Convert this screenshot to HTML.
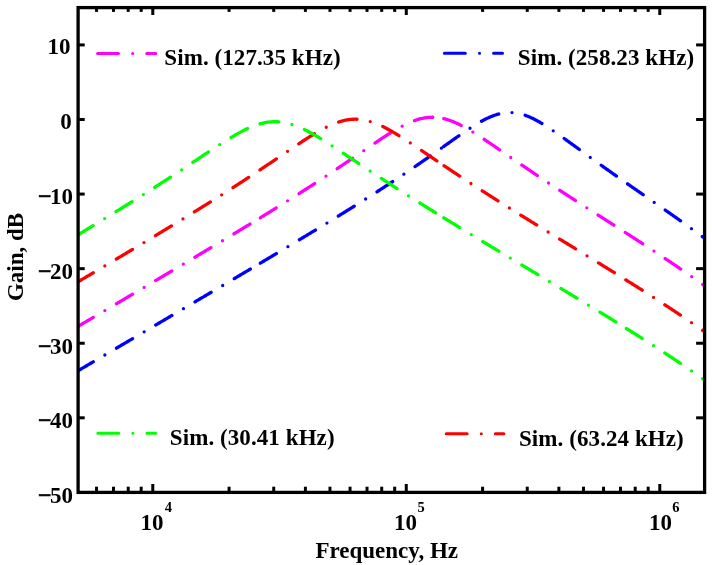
<!DOCTYPE html>
<html><head><meta charset="utf-8"><style>
html,body{margin:0;padding:0;background:#fff;}
body{width:712px;height:565px;overflow:hidden;}
svg{display:block;filter:blur(0.3px);}
text{font-family:"Liberation Serif","Times New Roman",serif;font-weight:bold;fill:#000;}
</style></head><body>
<svg width="712" height="565" viewBox="0 0 712 565">
<defs><clipPath id="pc"><rect x="78.10" y="7.60" width="626.50" height="484.80"/></clipPath></defs>
<rect width="712" height="565" fill="#fff"/>

<path d="M76.47 371.69 L77.39 371.15 L78.32 370.61 L79.24 370.06 L80.17 369.52 L81.09 368.98 L82.01 368.43 L82.94 367.89 L83.86 367.34 L84.78 366.80 L85.71 366.26 L86.63 365.71 L87.56 365.17 L88.48 364.63 L89.40 364.08 L90.33 363.54 L91.25 362.99 L92.17 362.45 L93.10 361.91 L94.02 361.36 L94.95 360.82 L95.87 360.27 L96.79 359.73 L97.72 359.19 L98.64 358.64 L99.56 358.10 L100.49 357.55 L101.41 357.01 L102.34 356.47 L103.26 355.92 L104.18 355.38 L105.11 354.84 L106.03 354.29 L106.95 353.75 L107.88 353.20 L108.80 352.66 L109.73 352.12 L110.65 351.57 L111.57 351.03 L112.50 350.48 L113.42 349.94 L114.34 349.40 L115.27 348.85 L116.19 348.31 L117.12 347.76 L118.04 347.22 L118.96 346.68 L119.89 346.13 L120.81 345.59 L121.73 345.04 L122.66 344.50 L123.58 343.96 L124.51 343.41 L125.43 342.87 L126.35 342.32 L127.28 341.78 L128.20 341.23 L129.12 340.69 L130.05 340.15 L130.97 339.60 L131.90 339.06 L132.82 338.51 L133.74 337.97 L134.67 337.43 L135.59 336.88 L136.51 336.34 L137.44 335.79 L138.36 335.25 L139.29 334.70 L140.21 334.16 L141.13 333.62 L142.06 333.07 L142.98 332.53 L143.91 331.98 L144.83 331.44 L145.75 330.89 L146.68 330.35 L147.60 329.81 L148.52 329.26 L149.45 328.72 L150.37 328.17 L151.30 327.63 L152.22 327.08 L153.14 326.54 L154.07 325.99 L154.99 325.45 L155.91 324.91 L156.84 324.36 L157.76 323.82 L158.69 323.27 L159.61 322.73 L160.53 322.18 L161.46 321.64 L162.38 321.09 L163.30 320.55 L164.23 320.00 L165.15 319.46 L166.08 318.91 L167.00 318.37 L167.92 317.82 L168.85 317.28 L169.77 316.74 L170.69 316.19 L171.62 315.65 L172.54 315.10 L173.47 314.56 L174.39 314.01 L175.31 313.47 L176.24 312.92 L177.16 312.38 L178.08 311.83 L179.01 311.29 L179.93 310.74 L180.86 310.20 L181.78 309.65 L182.70 309.11 L183.63 308.56 L184.55 308.02 L185.47 307.47 L186.40 306.93 L187.32 306.38 L188.25 305.83 L189.17 305.29 L190.09 304.74 L191.02 304.20 L191.94 303.65 L192.86 303.11 L193.79 302.56 L194.71 302.02 L195.64 301.47 L196.56 300.93 L197.48 300.38 L198.41 299.83 L199.33 299.29 L200.26 298.74 L201.18 298.20 L202.10 297.65 L203.03 297.11 L203.95 296.56 L204.87 296.01 L205.80 295.47 L206.72 294.92 L207.65 294.38 L208.57 293.83 L209.49 293.28 L210.42 292.74 L211.34 292.19 L212.26 291.65 L213.19 291.10 L214.11 290.55 L215.04 290.01 L215.96 289.46 L216.88 288.91 L217.81 288.37 L218.73 287.82 L219.65 287.27 L220.58 286.73 L221.50 286.18 L222.43 285.63 L223.35 285.09 L224.27 284.54 L225.20 283.99 L226.12 283.45 L227.04 282.90 L227.97 282.35 L228.89 281.80 L229.82 281.26 L230.74 280.71 L231.66 280.16 L232.59 279.62 L233.51 279.07 L234.43 278.52 L235.36 277.97 L236.28 277.42 L237.21 276.88 L238.13 276.33 L239.05 275.78 L239.98 275.23 L240.90 274.69 L241.82 274.14 L242.75 273.59 L243.67 273.04 L244.60 272.49 L245.52 271.94 L246.44 271.40 L247.37 270.85 L248.29 270.30 L249.21 269.75 L250.14 269.20 L251.06 268.65 L251.99 268.10 L252.91 267.55 L253.83 267.00 L254.76 266.45 L255.68 265.91 L256.60 265.36 L257.53 264.81 L258.45 264.26 L259.38 263.71 L260.30 263.16" stroke="#0000ff" stroke-width="3.3" fill="none" stroke-dasharray="18.7 13.45 0 13.45" stroke-dashoffset="-0.8" stroke-linecap="round" stroke-linejoin="round" clip-path="url(#pc)"/>
<path d="M260.30 263.16 L261.22 262.61 L262.14 262.06 L263.06 261.51 L263.98 260.96 L264.91 260.41 L265.83 259.86 L266.75 259.32 L267.67 258.77 L268.59 258.22 L269.51 257.67 L270.43 257.12 L271.35 256.57 L272.27 256.02 L273.20 255.47 L274.12 254.92 L275.04 254.37 L275.96 253.82 L276.88 253.27 L277.80 252.72 L278.72 252.16 L279.64 251.61 L280.56 251.06 L281.49 250.51 L282.41 249.96 L283.33 249.41 L284.25 248.86 L285.17 248.30 L286.09 247.75 L287.01 247.20 L287.93 246.65 L288.85 246.09 L289.78 245.54 L290.70 244.99 L291.62 244.44 L292.54 243.88 L293.46 243.33 L294.38 242.78 L295.30 242.22 L296.22 241.67 L297.14 241.11 L298.07 240.56 L298.99 240.00 L299.91 239.45 L300.83 238.89 L301.75 238.34 L302.67 237.78 L303.59 237.23 L304.51 236.67 L305.43 236.11 L306.36 235.56 L307.28 235.00 L308.20 234.44 L309.12 233.89 L310.04 233.33 L310.96 232.77 L311.88 232.21 L312.80 231.65 L313.72 231.10 L314.65 230.54 L315.57 229.98 L316.49 229.42 L317.41 228.86 L318.33 228.30 L319.25 227.74 L320.17 227.18 L321.09 226.62 L322.01 226.06 L322.94 225.49 L323.86 224.93 L324.78 224.37 L325.70 223.81 L326.62 223.24 L327.54 222.68 L328.46 222.12 L329.38 221.55 L330.30 220.99 L331.23 220.42 L332.15 219.86 L333.07 219.29 L333.99 218.73 L334.91 218.16 L335.83 217.60 L336.75 217.03 L337.67 216.46 L338.59 215.89 L339.52 215.33 L340.44 214.76 L341.36 214.19 L342.28 213.62 L343.20 213.05 L344.12 212.48 L345.04 211.91 L345.96 211.34 L346.88 210.76 L347.81 210.19 L348.73 209.62 L349.65 209.05 L350.57 208.47 L351.49 207.90 L352.41 207.32 L353.33 206.75 L354.25 206.17 L355.17 205.60 L356.09 205.02 L357.02 204.44 L357.94 203.86 L358.86 203.29 L359.78 202.71 L360.70 202.13 L361.62 201.55 L362.54 200.97 L363.46 200.38 L364.38 199.80 L365.31 199.22 L366.23 198.64 L367.15 198.05 L368.07 197.47 L368.99 196.88 L369.91 196.30 L370.83 195.71 L371.75 195.12 L372.67 194.53 L373.60 193.94 L374.52 193.35 L375.44 192.76 L376.36 192.17 L377.28 191.58 L378.20 190.99 L379.12 190.39 L380.04 189.80 L380.96 189.21 L381.89 188.61 L382.81 188.01 L383.73 187.42 L384.65 186.82 L385.57 186.22 L386.49 185.62 L387.41 185.02 L388.33 184.42 L389.25 183.81 L390.18 183.21 L391.10 182.61 L392.02 182.00 L392.94 181.40 L393.86 180.79 L394.78 180.18 L395.70 179.57 L396.62 178.96 L397.54 178.35 L398.47 177.74 L399.39 177.13 L400.31 176.51 L401.23 175.90 L402.15 175.28 L403.07 174.67 L403.99 174.05 L404.91 173.43 L405.83 172.81 L406.76 172.19 L407.68 171.57 L408.60 170.95 L409.52 170.32 L410.44 169.70 L411.36 169.07 L412.28 168.45 L413.20 167.82 L414.12 167.19 L415.05 166.56 L415.97 165.93 L416.89 165.30 L417.81 164.66 L418.73 164.03 L419.65 163.39 L420.57 162.76 L421.49 162.12 L422.41 161.48 L423.34 160.84 L424.26 160.20 L425.18 159.56 L426.10 158.92 L427.02 158.28 L427.94 157.64 L428.86 156.99 L429.78 156.35 L430.70 155.70 L431.63 155.05 L432.55 154.40 L433.47 153.76 L434.39 153.11 L435.31 152.46 L436.23 151.81 L437.15 151.15 L438.07 150.50 L438.99 149.85 L439.92 149.20 L440.84 148.54 L441.76 147.89 L442.68 147.24 L443.60 146.58" stroke="#0000ff" stroke-width="3.3" fill="none" stroke-dasharray="18.7 13.45 0 13.45" stroke-dashoffset="0" stroke-linecap="round" stroke-linejoin="round" clip-path="url(#pc)"/>
<path d="M443.60 146.58 L444.53 145.93 L445.45 145.27 L446.38 144.61 L447.30 143.95 L448.23 143.30 L449.15 142.64 L450.08 141.98 L451.01 141.33 L451.93 140.67 L452.86 140.02 L453.78 139.37 L454.71 138.71 L455.63 138.06 L456.56 137.41 L457.48 136.77 L458.41 136.12 L459.34 135.48 L460.26 134.83 L461.19 134.19 L462.11 133.56 L463.04 132.92 L463.96 132.29 L464.89 131.66 L465.82 131.04 L466.74 130.42 L467.67 129.80 L468.59 129.19 L469.52 128.58 L470.44 127.98 L471.37 127.38 L472.29 126.79 L473.22 126.20 L474.15 125.62 L475.07 125.05 L476.00 124.48 L476.92 123.92 L477.85 123.37 L478.77 122.83 L479.70 122.29 L480.63 121.77 L481.55 121.25 L482.48 120.75 L483.40 120.26 L484.33 119.77 L485.25 119.30 L486.18 118.84 L487.10 118.39 L488.03 117.96 L488.96 117.53 L489.88 117.13 L490.81 116.73 L491.73 116.36 L492.66 115.99 L493.58 115.64 L494.51 115.31 L495.44 115.00 L496.36 114.70 L497.29 114.42 L498.21 114.16 L499.14 113.92 L500.06 113.69 L500.99 113.49 L501.91 113.30 L502.84 113.14 L503.77 112.99 L504.69 112.86 L505.62 112.76 L506.54 112.67 L507.47 112.61 L508.39 112.56 L509.32 112.54 L510.25 112.54 L511.17 112.56 L512.10 112.60 L513.02 112.66 L513.95 112.74 L514.87 112.85 L515.80 112.97 L516.72 113.11 L517.65 113.28 L518.58 113.46 L519.50 113.67 L520.43 113.89 L521.35 114.13 L522.28 114.39 L523.20 114.67 L524.13 114.96 L525.06 115.28 L525.98 115.61 L526.91 115.96 L527.83 116.32 L528.76 116.70 L529.68 117.09 L530.61 117.50 L531.53 117.93 L532.46 118.36 L533.39 118.81 L534.31 119.28 L535.24 119.75 L536.16 120.24 L537.09 120.74 L538.01 121.25 L538.94 121.77 L539.87 122.30 L540.79 122.84 L541.72 123.38 L542.64 123.94 L543.57 124.51 L544.49 125.08 L545.42 125.66 L546.34 126.25 L547.27 126.84 L548.20 127.44 L549.12 128.05 L550.05 128.66 L550.97 129.28 L551.90 129.90 L552.82 130.52 L553.75 131.15 L554.68 131.79 L555.60 132.43 L556.53 133.07 L557.45 133.71 L558.38 134.36 L559.30 135.01 L560.23 135.67 L561.15 136.32 L562.08 136.98 L563.01 137.64 L563.93 138.30 L564.86 138.97 L565.78 139.63 L566.71 140.30 L567.63 140.97 L568.56 141.64 L569.49 142.31 L570.41 142.98 L571.34 143.65 L572.26 144.32 L573.19 144.99 L574.11 145.67 L575.04 146.34 L575.96 147.01 L576.89 147.69 L577.82 148.36 L578.74 149.03 L579.67 149.71 L580.59 150.38 L581.52 151.05 L582.44 151.73 L583.37 152.40 L584.30 153.07 L585.22 153.74 L586.15 154.42 L587.07 155.09 L588.00 155.76 L588.92 156.43 L589.85 157.10 L590.77 157.77 L591.70 158.44 L592.63 159.10 L593.55 159.77 L594.48 160.44 L595.40 161.11 L596.33 161.77 L597.25 162.44 L598.18 163.10 L599.11 163.76 L600.03 164.43 L600.96 165.09 L601.88 165.75 L602.81 166.41 L603.73 167.07 L604.66 167.73 L605.58 168.39 L606.51 169.05 L607.44 169.71 L608.36 170.36 L609.29 171.02 L610.21 171.68 L611.14 172.33 L612.06 172.99 L612.99 173.64 L613.92 174.29 L614.84 174.95 L615.77 175.60 L616.69 176.25 L617.62 176.90 L618.54 177.55 L619.47 178.20 L620.39 178.85 L621.32 179.50 L622.25 180.15 L623.17 180.80 L624.10 181.44 L625.02 182.09 L625.95 182.74 L626.87 183.38 L627.80 184.03" stroke="#0000ff" stroke-width="3.3" fill="none" stroke-dasharray="18.7 13.45 0 13.45" stroke-dashoffset="0" stroke-linecap="round" stroke-linejoin="round" clip-path="url(#pc)"/>
<path d="M627.80 184.03 L628.22 184.33 L628.65 184.62 L629.07 184.92 L629.49 185.21 L629.92 185.51 L630.34 185.80 L630.76 186.09 L631.18 186.39 L631.61 186.68 L632.03 186.98 L632.45 187.27 L632.88 187.57 L633.30 187.86 L633.72 188.16 L634.15 188.45 L634.57 188.75 L634.99 189.04 L635.42 189.33 L635.84 189.63 L636.26 189.92 L636.69 190.22 L637.11 190.51 L637.53 190.80 L637.95 191.10 L638.38 191.39 L638.80 191.69 L639.22 191.98 L639.65 192.27 L640.07 192.57 L640.49 192.86 L640.92 193.16 L641.34 193.45 L641.76 193.74 L642.19 194.04 L642.61 194.33 L643.03 194.62 L643.46 194.92 L643.88 195.21 L644.30 195.50 L644.72 195.80 L645.15 196.09 L645.57 196.39 L645.99 196.68 L646.42 196.97 L646.84 197.27 L647.26 197.56 L647.69 197.85 L648.11 198.15 L648.53 198.44 L648.96 198.74 L649.38 199.03 L649.80 199.32 L650.23 199.62 L650.65 199.91 L651.07 200.20 L651.49 200.50 L651.92 200.79 L652.34 201.09 L652.76 201.38 L653.19 201.67 L653.61 201.97 L654.03 202.26 L654.46 202.56 L654.88 202.85 L655.30 203.14 L655.73 203.44 L656.15 203.73 L656.57 204.03 L656.99 204.32 L657.42 204.62 L657.84 204.91 L658.26 205.21 L658.69 205.50 L659.11 205.79 L659.53 206.09 L659.96 206.38 L660.38 206.68 L660.80 206.97 L661.23 207.27 L661.65 207.56 L662.07 207.86 L662.50 208.15 L662.92 208.45 L663.34 208.75 L663.76 209.04 L664.19 209.34 L664.61 209.63 L665.03 209.93 L665.46 210.22 L665.88 210.52 L666.30 210.82 L666.73 211.11 L667.15 211.41 L667.57 211.70 L668.00 212.00 L668.42 212.30 L668.84 212.59 L669.27 212.89 L669.69 213.19 L670.11 213.48 L670.53 213.78 L670.96 214.08 L671.38 214.38 L671.80 214.67 L672.23 214.97 L672.65 215.27 L673.07 215.57 L673.50 215.86 L673.92 216.16 L674.34 216.46 L674.77 216.76 L675.19 217.06 L675.61 217.36 L676.04 217.66 L676.46 217.95 L676.88 218.25 L677.30 218.55 L677.73 218.85 L678.15 219.15 L678.57 219.45 L679.00 219.75 L679.42 220.05 L679.84 220.35 L680.27 220.65 L680.69 220.95 L681.11 221.25 L681.54 221.55 L681.96 221.85 L682.38 222.15 L682.81 222.46 L683.23 222.76 L683.65 223.06 L684.07 223.36 L684.50 223.66 L684.92 223.97 L685.34 224.27 L685.77 224.57 L686.19 224.87 L686.61 225.18 L687.04 225.48 L687.46 225.78 L687.88 226.09 L688.31 226.39 L688.73 226.69 L689.15 227.00 L689.57 227.30 L690.00 227.61 L690.42 227.91 L690.84 228.22 L691.27 228.52 L691.69 228.83 L692.11 229.13 L692.54 229.44 L692.96 229.74 L693.38 230.05 L693.81 230.36 L694.23 230.66 L694.65 230.97 L695.08 231.28 L695.50 231.58 L695.92 231.89 L696.34 232.20 L696.77 232.51 L697.19 232.82 L697.61 233.13 L698.04 233.43 L698.46 233.74 L698.88 234.05 L699.31 234.36 L699.73 234.67 L700.15 234.98 L700.58 235.29 L701.00 235.60 L701.42 235.91 L701.85 236.22 L702.27 236.54 L702.69 236.85 L703.11 237.16 L703.54 237.47 L703.96 237.78 L704.38 238.10 L704.81 238.41 L705.23 238.72 L705.65 239.04 L706.08 239.35 L706.50 239.66 L706.92 239.98 L707.35 240.29 L707.77 240.61 L708.19 240.92 L708.62 241.24 L709.04 241.55 L709.46 241.87 L709.88 242.19 L710.31 242.50 L710.73 242.82 L711.15 243.14 L711.58 243.45 L712.00 243.77" stroke="#0000ff" stroke-width="3.3" fill="none" stroke-dasharray="18.7 13.45 0 13.45" stroke-dashoffset="0" stroke-linecap="round" stroke-linejoin="round" clip-path="url(#pc)"/>
<path d="M76.47 327.31 L77.39 326.76 L78.32 326.22 L79.24 325.67 L80.17 325.13 L81.09 324.58 L82.01 324.04 L82.94 323.49 L83.86 322.95 L84.78 322.41 L85.71 321.86 L86.63 321.32 L87.56 320.77 L88.48 320.23 L89.40 319.68 L90.33 319.14 L91.25 318.59 L92.17 318.05 L93.10 317.50 L94.02 316.96 L94.95 316.41 L95.87 315.87 L96.79 315.33 L97.72 314.78 L98.64 314.24 L99.56 313.69 L100.49 313.15 L101.41 312.60 L102.34 312.06 L103.26 311.51 L104.18 310.97 L105.11 310.42 L106.03 309.88 L106.95 309.33 L107.88 308.79 L108.80 308.24 L109.73 307.70 L110.65 307.15 L111.57 306.61 L112.50 306.06 L113.42 305.52 L114.34 304.97 L115.27 304.42 L116.19 303.88 L117.12 303.33 L118.04 302.79 L118.96 302.24 L119.89 301.70 L120.81 301.15 L121.73 300.61 L122.66 300.06 L123.58 299.52 L124.51 298.97 L125.43 298.42 L126.35 297.88 L127.28 297.33 L128.20 296.79 L129.12 296.24 L130.05 295.70 L130.97 295.15 L131.90 294.60 L132.82 294.06 L133.74 293.51 L134.67 292.97 L135.59 292.42 L136.51 291.87 L137.44 291.33 L138.36 290.78 L139.29 290.24 L140.21 289.69 L141.13 289.14 L142.06 288.60 L142.98 288.05 L143.91 287.50 L144.83 286.96 L145.75 286.41 L146.68 285.86 L147.60 285.32 L148.52 284.77 L149.45 284.22 L150.37 283.68 L151.30 283.13 L152.22 282.58 L153.14 282.04 L154.07 281.49 L154.99 280.94 L155.91 280.40 L156.84 279.85 L157.76 279.30 L158.69 278.75 L159.61 278.21 L160.53 277.66 L161.46 277.11 L162.38 276.56 L163.30 276.02 L164.23 275.47 L165.15 274.92 L166.08 274.37 L167.00 273.82 L167.92 273.28 L168.85 272.73 L169.77 272.18 L170.69 271.63 L171.62 271.08 L172.54 270.54 L173.47 269.99 L174.39 269.44 L175.31 268.89 L176.24 268.34 L177.16 267.79 L178.08 267.24 L179.01 266.69 L179.93 266.15 L180.86 265.60 L181.78 265.05 L182.70 264.50 L183.63 263.95 L184.55 263.40 L185.47 262.85 L186.40 262.30 L187.32 261.75 L188.25 261.20 L189.17 260.65 L190.09 260.10 L191.02 259.55 L191.94 259.00 L192.86 258.45 L193.79 257.90 L194.71 257.35 L195.64 256.80 L196.56 256.24 L197.48 255.69 L198.41 255.14 L199.33 254.59 L200.26 254.04 L201.18 253.49 L202.10 252.94 L203.03 252.38 L203.95 251.83 L204.87 251.28 L205.80 250.73 L206.72 250.17 L207.65 249.62 L208.57 249.07 L209.49 248.52 L210.42 247.96 L211.34 247.41 L212.26 246.86 L213.19 246.30 L214.11 245.75 L215.04 245.19 L215.96 244.64 L216.88 244.09 L217.81 243.53 L218.73 242.98 L219.65 242.42 L220.58 241.87 L221.50 241.31 L222.43 240.76 L223.35 240.20 L224.27 239.65 L225.20 239.09 L226.12 238.53 L227.04 237.98 L227.97 237.42 L228.89 236.86 L229.82 236.31 L230.74 235.75 L231.66 235.19 L232.59 234.63 L233.51 234.08 L234.43 233.52 L235.36 232.96 L236.28 232.40 L237.21 231.84 L238.13 231.28 L239.05 230.72 L239.98 230.16 L240.90 229.60 L241.82 229.04 L242.75 228.48 L243.67 227.92 L244.60 227.36 L245.52 226.80 L246.44 226.24 L247.37 225.68 L248.29 225.11 L249.21 224.55 L250.14 223.99 L251.06 223.43 L251.99 222.86 L252.91 222.30 L253.83 221.73 L254.76 221.17 L255.68 220.60 L256.60 220.04 L257.53 219.47 L258.45 218.91 L259.38 218.34 L260.30 217.78" stroke="#ff00ff" stroke-width="3.3" fill="none" stroke-dasharray="18.7 13.45 0 13.45" stroke-dashoffset="-0.8" stroke-linecap="round" stroke-linejoin="round" clip-path="url(#pc)"/>
<path d="M260.30 217.78 L261.22 217.21 L262.14 216.64 L263.07 216.08 L263.99 215.51 L264.91 214.94 L265.83 214.37 L266.75 213.81 L267.68 213.24 L268.60 212.67 L269.52 212.10 L270.44 211.53 L271.37 210.96 L272.29 210.39 L273.21 209.82 L274.13 209.24 L275.05 208.67 L275.98 208.10 L276.90 207.53 L277.82 206.95 L278.74 206.38 L279.66 205.80 L280.59 205.23 L281.51 204.65 L282.43 204.08 L283.35 203.50 L284.27 202.92 L285.20 202.35 L286.12 201.77 L287.04 201.19 L287.96 200.61 L288.89 200.03 L289.81 199.45 L290.73 198.87 L291.65 198.29 L292.57 197.71 L293.50 197.12 L294.42 196.54 L295.34 195.96 L296.26 195.37 L297.18 194.79 L298.11 194.20 L299.03 193.61 L299.95 193.03 L300.87 192.44 L301.79 191.85 L302.72 191.26 L303.64 190.67 L304.56 190.08 L305.48 189.49 L306.41 188.90 L307.33 188.31 L308.25 187.71 L309.17 187.12 L310.09 186.53 L311.02 185.93 L311.94 185.33 L312.86 184.74 L313.78 184.14 L314.70 183.54 L315.63 182.94 L316.55 182.34 L317.47 181.74 L318.39 181.14 L319.32 180.54 L320.24 179.94 L321.16 179.33 L322.08 178.73 L323.00 178.12 L323.93 177.52 L324.85 176.91 L325.77 176.30 L326.69 175.69 L327.61 175.08 L328.54 174.47 L329.46 173.86 L330.38 173.25 L331.30 172.64 L332.22 172.03 L333.15 171.41 L334.07 170.80 L334.99 170.18 L335.91 169.57 L336.84 168.95 L337.76 168.33 L338.68 167.71 L339.60 167.09 L340.52 166.47 L341.45 165.85 L342.37 165.23 L343.29 164.61 L344.21 163.98 L345.13 163.36 L346.06 162.74 L346.98 162.11 L347.90 161.49 L348.82 160.86 L349.74 160.23 L350.67 159.61 L351.59 158.98 L352.51 158.35 L353.43 157.72 L354.36 157.09 L355.28 156.46 L356.20 155.83 L357.12 155.20 L358.04 154.57 L358.97 153.94 L359.89 153.31 L360.81 152.68 L361.73 152.05 L362.65 151.42 L363.58 150.79 L364.50 150.16 L365.42 149.53 L366.34 148.90 L367.26 148.27 L368.19 147.64 L369.11 147.01 L370.03 146.38 L370.95 145.76 L371.88 145.13 L372.80 144.50 L373.72 143.88 L374.64 143.26 L375.56 142.64 L376.49 142.02 L377.41 141.40 L378.33 140.78 L379.25 140.17 L380.17 139.56 L381.10 138.95 L382.02 138.34 L382.94 137.73 L383.86 137.13 L384.78 136.53 L385.71 135.94 L386.63 135.34 L387.55 134.76 L388.47 134.17 L389.40 133.59 L390.32 133.02 L391.24 132.45 L392.16 131.88 L393.08 131.32 L394.01 130.77 L394.93 130.22 L395.85 129.67 L396.77 129.14 L397.69 128.61 L398.62 128.09 L399.54 127.57 L400.46 127.07 L401.38 126.57 L402.31 126.08 L403.23 125.60 L404.15 125.13 L405.07 124.67 L405.99 124.21 L406.92 123.77 L407.84 123.34 L408.76 122.93 L409.68 122.52 L410.60 122.13 L411.53 121.75 L412.45 121.38 L413.37 121.02 L414.29 120.68 L415.21 120.35 L416.14 120.04 L417.06 119.74 L417.98 119.46 L418.90 119.19 L419.83 118.94 L420.75 118.71 L421.67 118.49 L422.59 118.29 L423.51 118.11 L424.44 117.94 L425.36 117.79 L426.28 117.66 L427.20 117.55 L428.12 117.45 L429.05 117.38 L429.97 117.32 L430.89 117.28 L431.81 117.26 L432.73 117.25 L433.66 117.27 L434.58 117.31 L435.50 117.36 L436.42 117.43 L437.35 117.52 L438.27 117.63 L439.19 117.75 L440.11 117.90 L441.03 118.06 L441.96 118.24 L442.88 118.44 L443.80 118.65" stroke="#ff00ff" stroke-width="3.3" fill="none" stroke-dasharray="18.7 13.45 0 13.45" stroke-dashoffset="0" stroke-linecap="round" stroke-linejoin="round" clip-path="url(#pc)"/>
<path d="M443.80 118.65 L444.72 118.88 L445.64 119.13 L446.56 119.39 L447.48 119.67 L448.40 119.96 L449.32 120.27 L450.24 120.59 L451.16 120.93 L452.09 121.28 L453.01 121.65 L453.93 122.02 L454.85 122.41 L455.77 122.82 L456.69 123.23 L457.61 123.66 L458.53 124.10 L459.45 124.54 L460.37 125.00 L461.29 125.47 L462.21 125.95 L463.13 126.44 L464.05 126.93 L464.97 127.44 L465.89 127.95 L466.82 128.47 L467.74 129.00 L468.66 129.53 L469.58 130.08 L470.50 130.62 L471.42 131.18 L472.34 131.74 L473.26 132.30 L474.18 132.87 L475.10 133.45 L476.02 134.03 L476.94 134.61 L477.86 135.20 L478.78 135.79 L479.70 136.39 L480.62 136.99 L481.54 137.59 L482.47 138.20 L483.39 138.81 L484.31 139.42 L485.23 140.03 L486.15 140.65 L487.07 141.26 L487.99 141.88 L488.91 142.51 L489.83 143.13 L490.75 143.75 L491.67 144.38 L492.59 145.01 L493.51 145.63 L494.43 146.26 L495.35 146.89 L496.27 147.52 L497.19 148.16 L498.12 148.79 L499.04 149.42 L499.96 150.05 L500.88 150.69 L501.80 151.32 L502.72 151.96 L503.64 152.59 L504.56 153.22 L505.48 153.86 L506.40 154.49 L507.32 155.13 L508.24 155.76 L509.16 156.39 L510.08 157.03 L511.00 157.66 L511.92 158.29 L512.85 158.92 L513.77 159.56 L514.69 160.19 L515.61 160.82 L516.53 161.45 L517.45 162.08 L518.37 162.71 L519.29 163.34 L520.21 163.97 L521.13 164.59 L522.05 165.22 L522.97 165.85 L523.89 166.47 L524.81 167.10 L525.73 167.73 L526.65 168.35 L527.57 168.97 L528.50 169.60 L529.42 170.22 L530.34 170.84 L531.26 171.46 L532.18 172.08 L533.10 172.70 L534.02 173.32 L534.94 173.94 L535.86 174.55 L536.78 175.17 L537.70 175.79 L538.62 176.40 L539.54 177.02 L540.46 177.63 L541.38 178.24 L542.30 178.86 L543.23 179.47 L544.15 180.08 L545.07 180.69 L545.99 181.30 L546.91 181.91 L547.83 182.52 L548.75 183.13 L549.67 183.74 L550.59 184.34 L551.51 184.95 L552.43 185.56 L553.35 186.16 L554.27 186.77 L555.19 187.37 L556.11 187.97 L557.03 188.58 L557.95 189.18 L558.88 189.78 L559.80 190.38 L560.72 190.98 L561.64 191.58 L562.56 192.18 L563.48 192.78 L564.40 193.38 L565.32 193.98 L566.24 194.58 L567.16 195.17 L568.08 195.77 L569.00 196.37 L569.92 196.97 L570.84 197.56 L571.76 198.16 L572.68 198.75 L573.61 199.35 L574.53 199.94 L575.45 200.53 L576.37 201.13 L577.29 201.72 L578.21 202.31 L579.13 202.91 L580.05 203.50 L580.97 204.09 L581.89 204.68 L582.81 205.28 L583.73 205.87 L584.65 206.46 L585.57 207.05 L586.49 207.64 L587.41 208.23 L588.33 208.82 L589.26 209.41 L590.18 210.00 L591.10 210.59 L592.02 211.18 L592.94 211.77 L593.86 212.36 L594.78 212.95 L595.70 213.54 L596.62 214.13 L597.54 214.72 L598.46 215.31 L599.38 215.89 L600.30 216.48 L601.22 217.07 L602.14 217.66 L603.06 218.25 L603.98 218.84 L604.91 219.43 L605.83 220.02 L606.75 220.60 L607.67 221.19 L608.59 221.78 L609.51 222.37 L610.43 222.96 L611.35 223.55 L612.27 224.14 L613.19 224.73 L614.11 225.32 L615.03 225.91 L615.95 226.50 L616.87 227.09 L617.79 227.68 L618.71 228.27 L619.64 228.86 L620.56 229.45 L621.48 230.04 L622.40 230.63 L623.32 231.22 L624.24 231.81 L625.16 232.40 L626.08 233.00 L627.00 233.59" stroke="#ff00ff" stroke-width="3.3" fill="none" stroke-dasharray="18.7 13.45 0 13.45" stroke-dashoffset="0" stroke-linecap="round" stroke-linejoin="round" clip-path="url(#pc)"/>
<path d="M627.00 233.59 L627.43 233.86 L627.85 234.14 L628.28 234.41 L628.71 234.69 L629.14 234.96 L629.56 235.24 L629.99 235.51 L630.42 235.79 L630.84 236.07 L631.27 236.34 L631.70 236.62 L632.13 236.89 L632.55 237.17 L632.98 237.44 L633.41 237.72 L633.83 238.00 L634.26 238.27 L634.69 238.55 L635.12 238.82 L635.54 239.10 L635.97 239.38 L636.40 239.65 L636.82 239.93 L637.25 240.21 L637.68 240.48 L638.11 240.76 L638.53 241.04 L638.96 241.31 L639.39 241.59 L639.81 241.87 L640.24 242.15 L640.67 242.42 L641.10 242.70 L641.52 242.98 L641.95 243.26 L642.38 243.54 L642.80 243.81 L643.23 244.09 L643.66 244.37 L644.09 244.65 L644.51 244.93 L644.94 245.21 L645.37 245.48 L645.79 245.76 L646.22 246.04 L646.65 246.32 L647.08 246.60 L647.50 246.88 L647.93 247.16 L648.36 247.44 L648.78 247.72 L649.21 248.00 L649.64 248.28 L650.07 248.56 L650.49 248.84 L650.92 249.12 L651.35 249.40 L651.77 249.68 L652.20 249.96 L652.63 250.24 L653.06 250.52 L653.48 250.80 L653.91 251.08 L654.34 251.37 L654.76 251.65 L655.19 251.93 L655.62 252.21 L656.05 252.49 L656.47 252.77 L656.90 253.06 L657.33 253.34 L657.75 253.62 L658.18 253.91 L658.61 254.19 L659.04 254.47 L659.46 254.75 L659.89 255.04 L660.32 255.32 L660.74 255.61 L661.17 255.89 L661.60 256.17 L662.03 256.46 L662.45 256.74 L662.88 257.03 L663.31 257.31 L663.73 257.60 L664.16 257.88 L664.59 258.17 L665.02 258.45 L665.44 258.74 L665.87 259.02 L666.30 259.31 L666.72 259.60 L667.15 259.88 L667.58 260.17 L668.01 260.46 L668.43 260.74 L668.86 261.03 L669.29 261.32 L669.71 261.60 L670.14 261.89 L670.57 262.18 L670.99 262.47 L671.42 262.76 L671.85 263.05 L672.28 263.33 L672.70 263.62 L673.13 263.91 L673.56 264.20 L673.98 264.49 L674.41 264.78 L674.84 265.07 L675.27 265.36 L675.69 265.65 L676.12 265.94 L676.55 266.23 L676.97 266.52 L677.40 266.82 L677.83 267.11 L678.26 267.40 L678.68 267.69 L679.11 267.98 L679.54 268.27 L679.96 268.57 L680.39 268.86 L680.82 269.15 L681.25 269.45 L681.67 269.74 L682.10 270.03 L682.53 270.33 L682.95 270.62 L683.38 270.92 L683.81 271.21 L684.24 271.51 L684.66 271.80 L685.09 272.10 L685.52 272.39 L685.94 272.69 L686.37 272.99 L686.80 273.28 L687.23 273.58 L687.65 273.88 L688.08 274.17 L688.51 274.47 L688.93 274.77 L689.36 275.07 L689.79 275.37 L690.22 275.66 L690.64 275.96 L691.07 276.26 L691.50 276.56 L691.92 276.86 L692.35 277.16 L692.78 277.46 L693.21 277.76 L693.63 278.06 L694.06 278.36 L694.49 278.67 L694.91 278.97 L695.34 279.27 L695.77 279.57 L696.20 279.87 L696.62 280.18 L697.05 280.48 L697.48 280.78 L697.90 281.09 L698.33 281.39 L698.76 281.70 L699.19 282.00 L699.61 282.30 L700.04 282.61 L700.47 282.92 L700.89 283.22 L701.32 283.53 L701.75 283.83 L702.18 284.14 L702.60 284.45 L703.03 284.76 L703.46 285.06 L703.88 285.37 L704.31 285.68 L704.74 285.99 L705.17 286.30 L705.59 286.61 L706.02 286.92 L706.45 287.23 L706.87 287.54 L707.30 287.85 L707.73 288.16 L708.16 288.47 L708.58 288.78 L709.01 289.09 L709.44 289.40 L709.86 289.72 L710.29 290.03 L710.72 290.34 L711.15 290.66 L711.57 290.97 L712.00 291.29" stroke="#ff00ff" stroke-width="3.3" fill="none" stroke-dasharray="18.7 13.45 0 13.45" stroke-dashoffset="0" stroke-linecap="round" stroke-linejoin="round" clip-path="url(#pc)"/>
<path d="M76.47 282.74 L77.40 282.19 L78.32 281.64 L79.25 281.10 L80.18 280.55 L81.10 280.00 L82.03 279.45 L82.96 278.90 L83.88 278.35 L84.81 277.80 L85.74 277.25 L86.66 276.70 L87.59 276.15 L88.52 275.60 L89.44 275.05 L90.37 274.50 L91.30 273.95 L92.23 273.40 L93.15 272.85 L94.08 272.30 L95.01 271.75 L95.93 271.20 L96.86 270.65 L97.79 270.10 L98.71 269.55 L99.64 269.00 L100.57 268.45 L101.49 267.90 L102.42 267.35 L103.35 266.80 L104.27 266.25 L105.20 265.70 L106.13 265.15 L107.05 264.60 L107.98 264.05 L108.91 263.49 L109.83 262.94 L110.76 262.39 L111.69 261.84 L112.61 261.29 L113.54 260.74 L114.47 260.18 L115.39 259.63 L116.32 259.08 L117.25 258.53 L118.18 257.97 L119.10 257.42 L120.03 256.87 L120.96 256.32 L121.88 255.76 L122.81 255.21 L123.74 254.66 L124.66 254.10 L125.59 253.55 L126.52 253.00 L127.44 252.44 L128.37 251.89 L129.30 251.34 L130.22 250.78 L131.15 250.23 L132.08 249.67 L133.00 249.12 L133.93 248.56 L134.86 248.01 L135.78 247.45 L136.71 246.90 L137.64 246.34 L138.56 245.79 L139.49 245.23 L140.42 244.67 L141.34 244.12 L142.27 243.56 L143.20 243.01 L144.13 242.45 L145.05 241.89 L145.98 241.34 L146.91 240.78 L147.83 240.22 L148.76 239.66 L149.69 239.11 L150.61 238.55 L151.54 237.99 L152.47 237.43 L153.39 236.87 L154.32 236.31 L155.25 235.75 L156.17 235.19 L157.10 234.64 L158.03 234.08 L158.95 233.52 L159.88 232.95 L160.81 232.39 L161.73 231.83 L162.66 231.27 L163.59 230.71 L164.51 230.15 L165.44 229.59 L166.37 229.03 L167.29 228.46 L168.22 227.90 L169.15 227.34 L170.08 226.77 L171.00 226.21 L171.93 225.65 L172.86 225.08 L173.78 224.52 L174.71 223.95 L175.64 223.39 L176.56 222.82 L177.49 222.26 L178.42 221.69 L179.34 221.13 L180.27 220.56 L181.20 219.99 L182.12 219.43 L183.05 218.86 L183.98 218.29 L184.90 217.72 L185.83 217.15 L186.76 216.58 L187.68 216.01 L188.61 215.44 L189.54 214.87 L190.46 214.30 L191.39 213.73 L192.32 213.16 L193.24 212.59 L194.17 212.02 L195.10 211.44 L196.03 210.87 L196.95 210.30 L197.88 209.72 L198.81 209.15 L199.73 208.57 L200.66 208.00 L201.59 207.42 L202.51 206.84 L203.44 206.27 L204.37 205.69 L205.29 205.11 L206.22 204.53 L207.15 203.96 L208.07 203.38 L209.00 202.80 L209.93 202.22 L210.85 201.63 L211.78 201.05 L212.71 200.47 L213.63 199.89 L214.56 199.31 L215.49 198.72 L216.41 198.14 L217.34 197.55 L218.27 196.97 L219.19 196.38 L220.12 195.79 L221.05 195.21 L221.98 194.62 L222.90 194.03 L223.83 193.44 L224.76 192.85 L225.68 192.26 L226.61 191.67 L227.54 191.08 L228.46 190.49 L229.39 189.89 L230.32 189.30 L231.24 188.70 L232.17 188.11 L233.10 187.51 L234.02 186.92 L234.95 186.32 L235.88 185.72 L236.80 185.12 L237.73 184.52 L238.66 183.92 L239.58 183.32 L240.51 182.72 L241.44 182.12 L242.36 181.52 L243.29 180.91 L244.22 180.31 L245.14 179.70 L246.07 179.10 L247.00 178.49 L247.93 177.88 L248.85 177.28 L249.78 176.67 L250.71 176.06 L251.63 175.45 L252.56 174.84 L253.49 174.22 L254.41 173.61 L255.34 173.00 L256.27 172.38 L257.19 171.77 L258.12 171.15 L259.05 170.54 L259.97 169.92 L260.90 169.30" stroke="#ff0000" stroke-width="3.3" fill="none" stroke-dasharray="18.7 13.45 0 13.45" stroke-dashoffset="-0.8" stroke-linecap="round" stroke-linejoin="round" clip-path="url(#pc)"/>
<path d="M260.90 169.30 L261.82 168.69 L262.74 168.07 L263.66 167.46 L264.58 166.84 L265.50 166.22 L266.42 165.61 L267.34 164.99 L268.26 164.37 L269.19 163.75 L270.11 163.13 L271.03 162.51 L271.95 161.89 L272.87 161.27 L273.79 160.65 L274.71 160.03 L275.63 159.40 L276.55 158.78 L277.47 158.16 L278.39 157.53 L279.31 156.91 L280.23 156.29 L281.15 155.66 L282.07 155.04 L282.99 154.42 L283.92 153.79 L284.84 153.17 L285.76 152.55 L286.68 151.92 L287.60 151.30 L288.52 150.68 L289.44 150.06 L290.36 149.43 L291.28 148.81 L292.20 148.19 L293.12 147.57 L294.04 146.96 L294.96 146.34 L295.88 145.72 L296.80 145.11 L297.72 144.50 L298.64 143.88 L299.57 143.27 L300.49 142.67 L301.41 142.06 L302.33 141.46 L303.25 140.85 L304.17 140.25 L305.09 139.66 L306.01 139.06 L306.93 138.47 L307.85 137.89 L308.77 137.30 L309.69 136.72 L310.61 136.15 L311.53 135.57 L312.45 135.01 L313.37 134.44 L314.29 133.89 L315.22 133.33 L316.14 132.79 L317.06 132.24 L317.98 131.71 L318.90 131.18 L319.82 130.66 L320.74 130.14 L321.66 129.63 L322.58 129.13 L323.50 128.64 L324.42 128.16 L325.34 127.68 L326.26 127.22 L327.18 126.76 L328.10 126.31 L329.02 125.88 L329.95 125.45 L330.87 125.03 L331.79 124.63 L332.71 124.24 L333.63 123.86 L334.55 123.49 L335.47 123.13 L336.39 122.79 L337.31 122.46 L338.23 122.15 L339.15 121.85 L340.07 121.57 L340.99 121.29 L341.91 121.04 L342.83 120.80 L343.75 120.58 L344.67 120.37 L345.60 120.18 L346.52 120.00 L347.44 119.85 L348.36 119.71 L349.28 119.58 L350.20 119.48 L351.12 119.39 L352.04 119.32 L352.96 119.27 L353.88 119.23 L354.80 119.22 L355.72 119.22 L356.64 119.24 L357.56 119.28 L358.48 119.33 L359.40 119.40 L360.33 119.50 L361.25 119.60 L362.17 119.73 L363.09 119.87 L364.01 120.03 L364.93 120.21 L365.85 120.40 L366.77 120.61 L367.69 120.84 L368.61 121.08 L369.53 121.34 L370.45 121.61 L371.37 121.90 L372.29 122.20 L373.21 122.52 L374.13 122.85 L375.05 123.20 L375.98 123.55 L376.90 123.92 L377.82 124.31 L378.74 124.70 L379.66 125.11 L380.58 125.52 L381.50 125.95 L382.42 126.39 L383.34 126.84 L384.26 127.30 L385.18 127.77 L386.10 128.25 L387.02 128.73 L387.94 129.23 L388.86 129.73 L389.78 130.24 L390.71 130.75 L391.63 131.28 L392.55 131.81 L393.47 132.35 L394.39 132.89 L395.31 133.44 L396.23 133.99 L397.15 134.55 L398.07 135.12 L398.99 135.68 L399.91 136.26 L400.83 136.83 L401.75 137.42 L402.67 138.00 L403.59 138.59 L404.51 139.18 L405.43 139.78 L406.36 140.37 L407.28 140.97 L408.20 141.58 L409.12 142.18 L410.04 142.79 L410.96 143.40 L411.88 144.01 L412.80 144.62 L413.72 145.24 L414.64 145.85 L415.56 146.47 L416.48 147.09 L417.40 147.71 L418.32 148.33 L419.24 148.95 L420.16 149.57 L421.08 150.19 L422.01 150.81 L422.93 151.44 L423.85 152.06 L424.77 152.68 L425.69 153.31 L426.61 153.93 L427.53 154.56 L428.45 155.18 L429.37 155.81 L430.29 156.43 L431.21 157.06 L432.13 157.68 L433.05 158.31 L433.97 158.93 L434.89 159.55 L435.81 160.18 L436.74 160.80 L437.66 161.42 L438.58 162.04 L439.50 162.67 L440.42 163.29 L441.34 163.91 L442.26 164.53 L443.18 165.15 L444.10 165.77" stroke="#ff0000" stroke-width="3.3" fill="none" stroke-dasharray="18.7 13.45 0 13.45" stroke-dashoffset="0" stroke-linecap="round" stroke-linejoin="round" clip-path="url(#pc)"/>
<path d="M444.10 165.77 L445.02 166.38 L445.93 167.00 L446.85 167.61 L447.76 168.23 L448.68 168.84 L449.60 169.45 L450.51 170.06 L451.43 170.67 L452.34 171.29 L453.26 171.89 L454.18 172.50 L455.09 173.11 L456.01 173.72 L456.93 174.33 L457.84 174.93 L458.76 175.54 L459.67 176.14 L460.59 176.75 L461.51 177.35 L462.42 177.96 L463.34 178.56 L464.25 179.16 L465.17 179.76 L466.09 180.36 L467.00 180.96 L467.92 181.56 L468.83 182.16 L469.75 182.75 L470.67 183.35 L471.58 183.95 L472.50 184.54 L473.41 185.14 L474.33 185.73 L475.25 186.32 L476.16 186.91 L477.08 187.51 L477.99 188.10 L478.91 188.69 L479.83 189.28 L480.74 189.87 L481.66 190.46 L482.58 191.05 L483.49 191.63 L484.41 192.22 L485.32 192.81 L486.24 193.39 L487.16 193.98 L488.07 194.56 L488.99 195.15 L489.90 195.73 L490.82 196.31 L491.74 196.89 L492.65 197.48 L493.57 198.06 L494.48 198.64 L495.40 199.22 L496.32 199.80 L497.23 200.38 L498.15 200.96 L499.06 201.54 L499.98 202.11 L500.90 202.69 L501.81 203.27 L502.73 203.84 L503.65 204.42 L504.56 205.00 L505.48 205.57 L506.39 206.14 L507.31 206.72 L508.23 207.29 L509.14 207.87 L510.06 208.44 L510.97 209.01 L511.89 209.58 L512.81 210.16 L513.72 210.73 L514.64 211.30 L515.55 211.87 L516.47 212.44 L517.39 213.01 L518.30 213.58 L519.22 214.15 L520.13 214.72 L521.05 215.29 L521.97 215.86 L522.88 216.42 L523.80 216.99 L524.72 217.56 L525.63 218.13 L526.55 218.69 L527.46 219.26 L528.38 219.83 L529.30 220.39 L530.21 220.96 L531.13 221.53 L532.04 222.09 L532.96 222.66 L533.88 223.22 L534.79 223.79 L535.71 224.35 L536.62 224.92 L537.54 225.48 L538.46 226.05 L539.37 226.61 L540.29 227.17 L541.20 227.74 L542.12 228.30 L543.04 228.86 L543.95 229.43 L544.87 229.99 L545.78 230.55 L546.70 231.11 L547.62 231.68 L548.53 232.24 L549.45 232.80 L550.37 233.36 L551.28 233.93 L552.20 234.49 L553.11 235.05 L554.03 235.61 L554.95 236.17 L555.86 236.74 L556.78 237.30 L557.69 237.86 L558.61 238.42 L559.53 238.98 L560.44 239.54 L561.36 240.10 L562.27 240.67 L563.19 241.23 L564.11 241.79 L565.02 242.35 L565.94 242.91 L566.85 243.47 L567.77 244.03 L568.69 244.59 L569.60 245.16 L570.52 245.72 L571.44 246.28 L572.35 246.84 L573.27 247.40 L574.18 247.96 L575.10 248.52 L576.02 249.08 L576.93 249.65 L577.85 250.21 L578.76 250.77 L579.68 251.33 L580.60 251.89 L581.51 252.45 L582.43 253.02 L583.34 253.58 L584.26 254.14 L585.18 254.70 L586.09 255.27 L587.01 255.83 L587.92 256.39 L588.84 256.95 L589.76 257.52 L590.67 258.08 L591.59 258.64 L592.51 259.21 L593.42 259.77 L594.34 260.33 L595.25 260.90 L596.17 261.46 L597.09 262.02 L598.00 262.59 L598.92 263.15 L599.83 263.72 L600.75 264.28 L601.67 264.85 L602.58 265.41 L603.50 265.98 L604.41 266.55 L605.33 267.11 L606.25 267.68 L607.16 268.24 L608.08 268.81 L608.99 269.38 L609.91 269.95 L610.83 270.51 L611.74 271.08 L612.66 271.65 L613.57 272.22 L614.49 272.79 L615.41 273.36 L616.32 273.93 L617.24 274.50 L618.16 275.07 L619.07 275.64 L619.99 276.21 L620.90 276.78 L621.82 277.35 L622.74 277.93 L623.65 278.50 L624.57 279.07 L625.48 279.64 L626.40 280.22" stroke="#ff0000" stroke-width="3.3" fill="none" stroke-dasharray="18.7 13.45 0 13.45" stroke-dashoffset="0" stroke-linecap="round" stroke-linejoin="round" clip-path="url(#pc)"/>
<path d="M626.40 280.22 L626.83 280.49 L627.26 280.76 L627.69 281.03 L628.12 281.30 L628.55 281.57 L628.98 281.84 L629.41 282.11 L629.84 282.38 L630.27 282.65 L630.70 282.92 L631.13 283.19 L631.56 283.46 L631.99 283.73 L632.42 284.00 L632.85 284.27 L633.28 284.54 L633.71 284.82 L634.14 285.09 L634.57 285.36 L635.00 285.63 L635.43 285.90 L635.86 286.17 L636.29 286.44 L636.72 286.72 L637.15 286.99 L637.58 287.26 L638.01 287.53 L638.44 287.81 L638.87 288.08 L639.30 288.35 L639.73 288.62 L640.16 288.90 L640.59 289.17 L641.03 289.44 L641.46 289.72 L641.89 289.99 L642.32 290.26 L642.75 290.54 L643.18 290.81 L643.61 291.08 L644.04 291.36 L644.47 291.63 L644.90 291.91 L645.33 292.18 L645.76 292.46 L646.19 292.73 L646.62 293.01 L647.05 293.28 L647.48 293.56 L647.91 293.83 L648.34 294.11 L648.77 294.38 L649.20 294.66 L649.63 294.93 L650.06 295.21 L650.49 295.49 L650.92 295.76 L651.35 296.04 L651.78 296.32 L652.21 296.59 L652.64 296.87 L653.07 297.15 L653.50 297.42 L653.93 297.70 L654.36 297.98 L654.79 298.26 L655.22 298.53 L655.65 298.81 L656.08 299.09 L656.51 299.37 L656.94 299.65 L657.37 299.93 L657.80 300.21 L658.23 300.48 L658.66 300.76 L659.09 301.04 L659.52 301.32 L659.95 301.60 L660.38 301.88 L660.81 302.16 L661.24 302.44 L661.67 302.72 L662.10 303.00 L662.53 303.28 L662.96 303.56 L663.39 303.85 L663.82 304.13 L664.25 304.41 L664.68 304.69 L665.11 304.97 L665.54 305.25 L665.97 305.54 L666.40 305.82 L666.83 306.10 L667.26 306.38 L667.69 306.67 L668.12 306.95 L668.55 307.23 L668.98 307.52 L669.42 307.80 L669.85 308.09 L670.28 308.37 L670.71 308.65 L671.14 308.94 L671.57 309.22 L672.00 309.51 L672.43 309.79 L672.86 310.08 L673.29 310.36 L673.72 310.65 L674.15 310.94 L674.58 311.22 L675.01 311.51 L675.44 311.80 L675.87 312.08 L676.30 312.37 L676.73 312.66 L677.16 312.94 L677.59 313.23 L678.02 313.52 L678.45 313.81 L678.88 314.10 L679.31 314.39 L679.74 314.67 L680.17 314.96 L680.60 315.25 L681.03 315.54 L681.46 315.83 L681.89 316.12 L682.32 316.41 L682.75 316.70 L683.18 316.99 L683.61 317.29 L684.04 317.58 L684.47 317.87 L684.90 318.16 L685.33 318.45 L685.76 318.74 L686.19 319.04 L686.62 319.33 L687.05 319.62 L687.48 319.92 L687.91 320.21 L688.34 320.50 L688.77 320.80 L689.20 321.09 L689.63 321.39 L690.06 321.68 L690.49 321.98 L690.92 322.27 L691.35 322.57 L691.78 322.86 L692.21 323.16 L692.64 323.46 L693.07 323.75 L693.50 324.05 L693.93 324.35 L694.36 324.65 L694.79 324.94 L695.22 325.24 L695.65 325.54 L696.08 325.84 L696.51 326.14 L696.94 326.44 L697.37 326.74 L697.81 327.04 L698.24 327.34 L698.67 327.64 L699.10 327.94 L699.53 328.24 L699.96 328.54 L700.39 328.84 L700.82 329.14 L701.25 329.45 L701.68 329.75 L702.11 330.05 L702.54 330.35 L702.97 330.66 L703.40 330.96 L703.83 331.27 L704.26 331.57 L704.69 331.88 L705.12 332.18 L705.55 332.49 L705.98 332.79 L706.41 333.10 L706.84 333.40 L707.27 333.71 L707.70 334.02 L708.13 334.32 L708.56 334.63 L708.99 334.94 L709.42 335.25 L709.85 335.56 L710.28 335.87 L710.71 336.18 L711.14 336.49 L711.57 336.80 L712.00 337.11" stroke="#ff0000" stroke-width="3.3" fill="none" stroke-dasharray="18.7 13.45 0 13.45" stroke-dashoffset="0" stroke-linecap="round" stroke-linejoin="round" clip-path="url(#pc)"/>
<path d="M76.47 235.71 L77.39 235.15 L78.32 234.60 L79.24 234.04 L80.17 233.48 L81.09 232.92 L82.01 232.36 L82.94 231.81 L83.86 231.25 L84.78 230.69 L85.71 230.13 L86.63 229.57 L87.56 229.01 L88.48 228.45 L89.40 227.89 L90.33 227.33 L91.25 226.77 L92.17 226.21 L93.10 225.65 L94.02 225.08 L94.95 224.52 L95.87 223.96 L96.79 223.40 L97.72 222.83 L98.64 222.27 L99.56 221.71 L100.49 221.14 L101.41 220.58 L102.34 220.02 L103.26 219.45 L104.18 218.89 L105.11 218.32 L106.03 217.76 L106.95 217.19 L107.88 216.62 L108.80 216.06 L109.73 215.49 L110.65 214.92 L111.57 214.35 L112.50 213.79 L113.42 213.22 L114.34 212.65 L115.27 212.08 L116.19 211.51 L117.12 210.94 L118.04 210.37 L118.96 209.80 L119.89 209.23 L120.81 208.65 L121.73 208.08 L122.66 207.51 L123.58 206.94 L124.51 206.36 L125.43 205.79 L126.35 205.21 L127.28 204.64 L128.20 204.06 L129.12 203.49 L130.05 202.91 L130.97 202.33 L131.90 201.76 L132.82 201.18 L133.74 200.60 L134.67 200.02 L135.59 199.44 L136.51 198.86 L137.44 198.28 L138.36 197.70 L139.29 197.12 L140.21 196.53 L141.13 195.95 L142.06 195.37 L142.98 194.79 L143.91 194.20 L144.83 193.62 L145.75 193.03 L146.68 192.44 L147.60 191.86 L148.52 191.27 L149.45 190.68 L150.37 190.09 L151.30 189.50 L152.22 188.91 L153.14 188.32 L154.07 187.73 L154.99 187.14 L155.91 186.55 L156.84 185.96 L157.76 185.36 L158.69 184.77 L159.61 184.17 L160.53 183.58 L161.46 182.98 L162.38 182.39 L163.30 181.79 L164.23 181.19 L165.15 180.59 L166.08 179.99 L167.00 179.39 L167.92 178.79 L168.85 178.19 L169.77 177.59 L170.69 176.99 L171.62 176.38 L172.54 175.78 L173.47 175.17 L174.39 174.57 L175.31 173.96 L176.24 173.36 L177.16 172.75 L178.08 172.14 L179.01 171.54 L179.93 170.93 L180.86 170.32 L181.78 169.71 L182.70 169.10 L183.63 168.49 L184.55 167.88 L185.47 167.26 L186.40 166.65 L187.32 166.04 L188.25 165.43 L189.17 164.81 L190.09 164.20 L191.02 163.59 L191.94 162.97 L192.86 162.36 L193.79 161.74 L194.71 161.13 L195.64 160.51 L196.56 159.90 L197.48 159.28 L198.41 158.66 L199.33 158.05 L200.26 157.43 L201.18 156.82 L202.10 156.20 L203.03 155.59 L203.95 154.97 L204.87 154.36 L205.80 153.74 L206.72 153.13 L207.65 152.52 L208.57 151.90 L209.49 151.29 L210.42 150.68 L211.34 150.07 L212.26 149.46 L213.19 148.85 L214.11 148.25 L215.04 147.64 L215.96 147.04 L216.88 146.44 L217.81 145.84 L218.73 145.24 L219.65 144.64 L220.58 144.05 L221.50 143.45 L222.43 142.86 L223.35 142.28 L224.27 141.69 L225.20 141.11 L226.12 140.53 L227.04 139.96 L227.97 139.39 L228.89 138.82 L229.82 138.26 L230.74 137.70 L231.66 137.14 L232.59 136.59 L233.51 136.05 L234.43 135.51 L235.36 134.97 L236.28 134.45 L237.21 133.92 L238.13 133.41 L239.05 132.90 L239.98 132.40 L240.90 131.90 L241.82 131.41 L242.75 130.93 L243.67 130.46 L244.60 130.00 L245.52 129.54 L246.44 129.10 L247.37 128.66 L248.29 128.24 L249.21 127.82 L250.14 127.42 L251.06 127.02 L251.99 126.64 L252.91 126.27 L253.83 125.91 L254.76 125.56 L255.68 125.23 L256.60 124.91 L257.53 124.60 L258.45 124.31 L259.38 124.03 L260.30 123.76" stroke="#00ff00" stroke-width="3.3" fill="none" stroke-dasharray="18.7 13.45 0 13.45" stroke-dashoffset="-0.8" stroke-linecap="round" stroke-linejoin="round" clip-path="url(#pc)"/>
<path d="M260.30 123.76 L261.22 123.51 L262.14 123.28 L263.07 123.06 L263.99 122.85 L264.91 122.66 L265.83 122.49 L266.75 122.33 L267.68 122.19 L268.60 122.07 L269.52 121.96 L270.44 121.87 L271.37 121.79 L272.29 121.74 L273.21 121.70 L274.13 121.67 L275.05 121.67 L275.98 121.68 L276.90 121.71 L277.82 121.75 L278.74 121.81 L279.66 121.89 L280.59 121.99 L281.51 122.10 L282.43 122.23 L283.35 122.38 L284.27 122.54 L285.20 122.72 L286.12 122.91 L287.04 123.12 L287.96 123.35 L288.89 123.59 L289.81 123.84 L290.73 124.11 L291.65 124.39 L292.57 124.69 L293.50 125.00 L294.42 125.33 L295.34 125.66 L296.26 126.01 L297.18 126.37 L298.11 126.75 L299.03 127.13 L299.95 127.53 L300.87 127.94 L301.79 128.35 L302.72 128.78 L303.64 129.22 L304.56 129.67 L305.48 130.12 L306.41 130.59 L307.33 131.06 L308.25 131.54 L309.17 132.03 L310.09 132.53 L311.02 133.03 L311.94 133.54 L312.86 134.06 L313.78 134.58 L314.70 135.11 L315.63 135.65 L316.55 136.19 L317.47 136.73 L318.39 137.28 L319.32 137.84 L320.24 138.40 L321.16 138.96 L322.08 139.53 L323.00 140.10 L323.93 140.67 L324.85 141.25 L325.77 141.83 L326.69 142.42 L327.61 143.00 L328.54 143.59 L329.46 144.19 L330.38 144.78 L331.30 145.38 L332.22 145.97 L333.15 146.57 L334.07 147.18 L334.99 147.78 L335.91 148.38 L336.84 148.99 L337.76 149.60 L338.68 150.20 L339.60 150.81 L340.52 151.42 L341.45 152.04 L342.37 152.65 L343.29 153.26 L344.21 153.87 L345.13 154.49 L346.06 155.10 L346.98 155.71 L347.90 156.33 L348.82 156.94 L349.74 157.56 L350.67 158.17 L351.59 158.79 L352.51 159.40 L353.43 160.02 L354.36 160.63 L355.28 161.24 L356.20 161.86 L357.12 162.47 L358.04 163.09 L358.97 163.70 L359.89 164.31 L360.81 164.93 L361.73 165.54 L362.65 166.15 L363.58 166.76 L364.50 167.37 L365.42 167.99 L366.34 168.60 L367.26 169.21 L368.19 169.81 L369.11 170.42 L370.03 171.03 L370.95 171.64 L371.88 172.25 L372.80 172.85 L373.72 173.46 L374.64 174.06 L375.56 174.67 L376.49 175.27 L377.41 175.88 L378.33 176.48 L379.25 177.08 L380.17 177.68 L381.10 178.29 L382.02 178.89 L382.94 179.49 L383.86 180.09 L384.78 180.68 L385.71 181.28 L386.63 181.88 L387.55 182.48 L388.47 183.07 L389.40 183.67 L390.32 184.26 L391.24 184.86 L392.16 185.45 L393.08 186.04 L394.01 186.63 L394.93 187.23 L395.85 187.82 L396.77 188.41 L397.69 189.00 L398.62 189.59 L399.54 190.18 L400.46 190.76 L401.38 191.35 L402.31 191.94 L403.23 192.52 L404.15 193.11 L405.07 193.69 L405.99 194.28 L406.92 194.86 L407.84 195.45 L408.76 196.03 L409.68 196.61 L410.60 197.19 L411.53 197.77 L412.45 198.36 L413.37 198.94 L414.29 199.52 L415.21 200.09 L416.14 200.67 L417.06 201.25 L417.98 201.83 L418.90 202.41 L419.83 202.98 L420.75 203.56 L421.67 204.13 L422.59 204.71 L423.51 205.29 L424.44 205.86 L425.36 206.43 L426.28 207.01 L427.20 207.58 L428.12 208.15 L429.05 208.72 L429.97 209.30 L430.89 209.87 L431.81 210.44 L432.73 211.01 L433.66 211.58 L434.58 212.15 L435.50 212.72 L436.42 213.29 L437.35 213.86 L438.27 214.43 L439.19 214.99 L440.11 215.56 L441.03 216.13 L441.96 216.70 L442.88 217.26 L443.80 217.83" stroke="#00ff00" stroke-width="3.3" fill="none" stroke-dasharray="18.7 13.45 0 13.45" stroke-dashoffset="0" stroke-linecap="round" stroke-linejoin="round" clip-path="url(#pc)"/>
<path d="M443.80 217.83 L444.72 218.39 L445.64 218.95 L446.55 219.52 L447.47 220.08 L448.39 220.64 L449.31 221.20 L450.22 221.76 L451.14 222.32 L452.06 222.89 L452.98 223.45 L453.89 224.01 L454.81 224.57 L455.73 225.13 L456.65 225.69 L457.56 226.24 L458.48 226.80 L459.40 227.36 L460.32 227.92 L461.23 228.48 L462.15 229.04 L463.07 229.59 L463.99 230.15 L464.90 230.71 L465.82 231.27 L466.74 231.82 L467.66 232.38 L468.57 232.94 L469.49 233.49 L470.41 234.05 L471.33 234.60 L472.25 235.16 L473.16 235.71 L474.08 236.27 L475.00 236.83 L475.92 237.38 L476.83 237.93 L477.75 238.49 L478.67 239.04 L479.59 239.60 L480.50 240.15 L481.42 240.71 L482.34 241.26 L483.26 241.81 L484.17 242.37 L485.09 242.92 L486.01 243.47 L486.93 244.03 L487.84 244.58 L488.76 245.13 L489.68 245.69 L490.60 246.24 L491.51 246.79 L492.43 247.34 L493.35 247.90 L494.27 248.45 L495.18 249.00 L496.10 249.55 L497.02 250.10 L497.94 250.66 L498.86 251.21 L499.77 251.76 L500.69 252.31 L501.61 252.86 L502.53 253.41 L503.44 253.97 L504.36 254.52 L505.28 255.07 L506.20 255.62 L507.11 256.17 L508.03 256.72 L508.95 257.27 L509.87 257.82 L510.78 258.37 L511.70 258.93 L512.62 259.48 L513.54 260.03 L514.45 260.58 L515.37 261.13 L516.29 261.68 L517.21 262.23 L518.12 262.78 L519.04 263.33 L519.96 263.88 L520.88 264.43 L521.79 264.98 L522.71 265.53 L523.63 266.08 L524.55 266.64 L525.47 267.19 L526.38 267.74 L527.30 268.29 L528.22 268.84 L529.14 269.39 L530.05 269.94 L530.97 270.49 L531.89 271.04 L532.81 271.59 L533.72 272.14 L534.64 272.69 L535.56 273.24 L536.48 273.79 L537.39 274.34 L538.31 274.90 L539.23 275.45 L540.15 276.00 L541.06 276.55 L541.98 277.10 L542.90 277.65 L543.82 278.20 L544.73 278.75 L545.65 279.30 L546.57 279.86 L547.49 280.41 L548.41 280.96 L549.32 281.51 L550.24 282.06 L551.16 282.61 L552.08 283.17 L552.99 283.72 L553.91 284.27 L554.83 284.82 L555.75 285.37 L556.66 285.93 L557.58 286.48 L558.50 287.03 L559.42 287.58 L560.33 288.14 L561.25 288.69 L562.17 289.24 L563.09 289.80 L564.00 290.35 L564.92 290.90 L565.84 291.46 L566.76 292.01 L567.67 292.56 L568.59 293.12 L569.51 293.67 L570.43 294.23 L571.34 294.78 L572.26 295.33 L573.18 295.89 L574.10 296.44 L575.02 297.00 L575.93 297.55 L576.85 298.11 L577.77 298.66 L578.69 299.22 L579.60 299.78 L580.52 300.33 L581.44 300.89 L582.36 301.45 L583.27 302.00 L584.19 302.56 L585.11 303.12 L586.03 303.67 L586.94 304.23 L587.86 304.79 L588.78 305.35 L589.70 305.91 L590.61 306.46 L591.53 307.02 L592.45 307.58 L593.37 308.14 L594.28 308.70 L595.20 309.26 L596.12 309.82 L597.04 310.38 L597.95 310.94 L598.87 311.50 L599.79 312.07 L600.71 312.63 L601.63 313.19 L602.54 313.75 L603.46 314.31 L604.38 314.88 L605.30 315.44 L606.21 316.00 L607.13 316.57 L608.05 317.13 L608.97 317.70 L609.88 318.26 L610.80 318.83 L611.72 319.39 L612.64 319.96 L613.55 320.53 L614.47 321.09 L615.39 321.66 L616.31 322.23 L617.22 322.80 L618.14 323.36 L619.06 323.93 L619.98 324.50 L620.89 325.07 L621.81 325.64 L622.73 326.21 L623.65 326.78 L624.56 327.36 L625.48 327.93 L626.40 328.50" stroke="#00ff00" stroke-width="3.3" fill="none" stroke-dasharray="18.7 13.45 0 13.45" stroke-dashoffset="0" stroke-linecap="round" stroke-linejoin="round" clip-path="url(#pc)"/>
<path d="M626.40 328.50 L626.83 328.77 L627.26 329.04 L627.69 329.31 L628.12 329.58 L628.55 329.84 L628.98 330.11 L629.41 330.38 L629.84 330.65 L630.27 330.92 L630.70 331.19 L631.13 331.46 L631.56 331.73 L631.99 332.00 L632.42 332.27 L632.85 332.54 L633.28 332.81 L633.71 333.08 L634.14 333.35 L634.57 333.62 L635.00 333.89 L635.43 334.16 L635.86 334.44 L636.29 334.71 L636.72 334.98 L637.15 335.25 L637.58 335.52 L638.01 335.79 L638.44 336.06 L638.87 336.34 L639.30 336.61 L639.73 336.88 L640.16 337.15 L640.59 337.43 L641.03 337.70 L641.46 337.97 L641.89 338.24 L642.32 338.52 L642.75 338.79 L643.18 339.06 L643.61 339.34 L644.04 339.61 L644.47 339.88 L644.90 340.16 L645.33 340.43 L645.76 340.71 L646.19 340.98 L646.62 341.25 L647.05 341.53 L647.48 341.80 L647.91 342.08 L648.34 342.35 L648.77 342.63 L649.20 342.90 L649.63 343.18 L650.06 343.45 L650.49 343.73 L650.92 344.01 L651.35 344.28 L651.78 344.56 L652.21 344.84 L652.64 345.11 L653.07 345.39 L653.50 345.67 L653.93 345.94 L654.36 346.22 L654.79 346.50 L655.22 346.78 L655.65 347.05 L656.08 347.33 L656.51 347.61 L656.94 347.89 L657.37 348.17 L657.80 348.44 L658.23 348.72 L658.66 349.00 L659.09 349.28 L659.52 349.56 L659.95 349.84 L660.38 350.12 L660.81 350.40 L661.24 350.68 L661.67 350.96 L662.10 351.24 L662.53 351.52 L662.96 351.80 L663.39 352.08 L663.82 352.36 L664.25 352.65 L664.68 352.93 L665.11 353.21 L665.54 353.49 L665.97 353.77 L666.40 354.06 L666.83 354.34 L667.26 354.62 L667.69 354.90 L668.12 355.19 L668.55 355.47 L668.98 355.76 L669.42 356.04 L669.85 356.32 L670.28 356.61 L670.71 356.89 L671.14 357.18 L671.57 357.46 L672.00 357.75 L672.43 358.03 L672.86 358.32 L673.29 358.60 L673.72 358.89 L674.15 359.18 L674.58 359.46 L675.01 359.75 L675.44 360.04 L675.87 360.32 L676.30 360.61 L676.73 360.90 L677.16 361.19 L677.59 361.47 L678.02 361.76 L678.45 362.05 L678.88 362.34 L679.31 362.63 L679.74 362.92 L680.17 363.21 L680.60 363.50 L681.03 363.79 L681.46 364.08 L681.89 364.37 L682.32 364.66 L682.75 364.95 L683.18 365.24 L683.61 365.53 L684.04 365.82 L684.47 366.11 L684.90 366.41 L685.33 366.70 L685.76 366.99 L686.19 367.28 L686.62 367.58 L687.05 367.87 L687.48 368.17 L687.91 368.46 L688.34 368.75 L688.77 369.05 L689.20 369.34 L689.63 369.64 L690.06 369.93 L690.49 370.23 L690.92 370.52 L691.35 370.82 L691.78 371.12 L692.21 371.41 L692.64 371.71 L693.07 372.01 L693.50 372.31 L693.93 372.60 L694.36 372.90 L694.79 373.20 L695.22 373.50 L695.65 373.80 L696.08 374.10 L696.51 374.40 L696.94 374.70 L697.37 375.00 L697.81 375.30 L698.24 375.60 L698.67 375.90 L699.10 376.20 L699.53 376.50 L699.96 376.81 L700.39 377.11 L700.82 377.41 L701.25 377.71 L701.68 378.02 L702.11 378.32 L702.54 378.62 L702.97 378.93 L703.40 379.23 L703.83 379.54 L704.26 379.84 L704.69 380.15 L705.12 380.45 L705.55 380.76 L705.98 381.07 L706.41 381.37 L706.84 381.68 L707.27 381.99 L707.70 382.30 L708.13 382.60 L708.56 382.91 L708.99 383.22 L709.42 383.53 L709.85 383.84 L710.28 384.15 L710.71 384.46 L711.14 384.77 L711.57 385.08 L712.00 385.39" stroke="#00ff00" stroke-width="3.3" fill="none" stroke-dasharray="18.7 13.45 0 13.45" stroke-dashoffset="0" stroke-linecap="round" stroke-linejoin="round" clip-path="url(#pc)"/>
<path d="M97.57 53.4 L155.78 53.4" stroke="#ff00ff" stroke-width="3.05" fill="none" stroke-dasharray="20.9 14.2 0 14.05" stroke-linecap="round"/>
<path d="M444.42 53.3 L502.48 53.3" stroke="#0000ff" stroke-width="3.05" fill="none" stroke-dasharray="20.9 14.2 0 14.05" stroke-linecap="round"/>
<path d="M97.83 433.3 L155.57 433.3" stroke="#00ff00" stroke-width="3.05" fill="none" stroke-dasharray="20.9 14.2 0 14.05" stroke-linecap="round"/>
<path d="M446.22 433.8 L503.88 433.8" stroke="#ff0000" stroke-width="3.05" fill="none" stroke-dasharray="20.9 14.2 0 14.05" stroke-linecap="round"/>
<path d="M96.54 492.40 L96.54 486.70" stroke="#000" stroke-width="3.0" fill="none"/>
<path d="M96.54 7.60 L96.54 11.90" stroke="#000" stroke-width="3.0" fill="none"/>
<path d="M113.51 492.40 L113.51 486.70" stroke="#000" stroke-width="3.0" fill="none"/>
<path d="M113.51 7.60 L113.51 11.90" stroke="#000" stroke-width="3.0" fill="none"/>
<path d="M128.21 492.40 L128.21 486.70" stroke="#000" stroke-width="3.0" fill="none"/>
<path d="M128.21 7.60 L128.21 11.90" stroke="#000" stroke-width="3.0" fill="none"/>
<path d="M141.18 492.40 L141.18 486.70" stroke="#000" stroke-width="3.0" fill="none"/>
<path d="M141.18 7.60 L141.18 11.90" stroke="#000" stroke-width="3.0" fill="none"/>
<path d="M152.78 492.40 L152.78 484.00" stroke="#000" stroke-width="3.0" fill="none"/>
<path d="M152.78 7.60 L152.78 15.00" stroke="#000" stroke-width="3.0" fill="none"/>
<path d="M229.09 492.40 L229.09 486.70" stroke="#000" stroke-width="3.0" fill="none"/>
<path d="M229.09 7.60 L229.09 11.90" stroke="#000" stroke-width="3.0" fill="none"/>
<path d="M273.73 492.40 L273.73 486.70" stroke="#000" stroke-width="3.0" fill="none"/>
<path d="M273.73 7.60 L273.73 11.90" stroke="#000" stroke-width="3.0" fill="none"/>
<path d="M305.40 492.40 L305.40 486.70" stroke="#000" stroke-width="3.0" fill="none"/>
<path d="M305.40 7.60 L305.40 11.90" stroke="#000" stroke-width="3.0" fill="none"/>
<path d="M329.97 492.40 L329.97 486.70" stroke="#000" stroke-width="3.0" fill="none"/>
<path d="M329.97 7.60 L329.97 11.90" stroke="#000" stroke-width="3.0" fill="none"/>
<path d="M350.04 492.40 L350.04 486.70" stroke="#000" stroke-width="3.0" fill="none"/>
<path d="M350.04 7.60 L350.04 11.90" stroke="#000" stroke-width="3.0" fill="none"/>
<path d="M367.01 492.40 L367.01 486.70" stroke="#000" stroke-width="3.0" fill="none"/>
<path d="M367.01 7.60 L367.01 11.90" stroke="#000" stroke-width="3.0" fill="none"/>
<path d="M381.71 492.40 L381.71 486.70" stroke="#000" stroke-width="3.0" fill="none"/>
<path d="M381.71 7.60 L381.71 11.90" stroke="#000" stroke-width="3.0" fill="none"/>
<path d="M394.68 492.40 L394.68 486.70" stroke="#000" stroke-width="3.0" fill="none"/>
<path d="M394.68 7.60 L394.68 11.90" stroke="#000" stroke-width="3.0" fill="none"/>
<path d="M406.28 492.40 L406.28 484.00" stroke="#000" stroke-width="3.0" fill="none"/>
<path d="M406.28 7.60 L406.28 15.00" stroke="#000" stroke-width="3.0" fill="none"/>
<path d="M482.59 492.40 L482.59 486.70" stroke="#000" stroke-width="3.0" fill="none"/>
<path d="M482.59 7.60 L482.59 11.90" stroke="#000" stroke-width="3.0" fill="none"/>
<path d="M527.23 492.40 L527.23 486.70" stroke="#000" stroke-width="3.0" fill="none"/>
<path d="M527.23 7.60 L527.23 11.90" stroke="#000" stroke-width="3.0" fill="none"/>
<path d="M558.90 492.40 L558.90 486.70" stroke="#000" stroke-width="3.0" fill="none"/>
<path d="M558.90 7.60 L558.90 11.90" stroke="#000" stroke-width="3.0" fill="none"/>
<path d="M583.47 492.40 L583.47 486.70" stroke="#000" stroke-width="3.0" fill="none"/>
<path d="M583.47 7.60 L583.47 11.90" stroke="#000" stroke-width="3.0" fill="none"/>
<path d="M603.54 492.40 L603.54 486.70" stroke="#000" stroke-width="3.0" fill="none"/>
<path d="M603.54 7.60 L603.54 11.90" stroke="#000" stroke-width="3.0" fill="none"/>
<path d="M620.51 492.40 L620.51 486.70" stroke="#000" stroke-width="3.0" fill="none"/>
<path d="M620.51 7.60 L620.51 11.90" stroke="#000" stroke-width="3.0" fill="none"/>
<path d="M635.21 492.40 L635.21 486.70" stroke="#000" stroke-width="3.0" fill="none"/>
<path d="M635.21 7.60 L635.21 11.90" stroke="#000" stroke-width="3.0" fill="none"/>
<path d="M648.18 492.40 L648.18 486.70" stroke="#000" stroke-width="3.0" fill="none"/>
<path d="M648.18 7.60 L648.18 11.90" stroke="#000" stroke-width="3.0" fill="none"/>
<path d="M659.78 492.40 L659.78 484.00" stroke="#000" stroke-width="3.0" fill="none"/>
<path d="M659.78 7.60 L659.78 15.00" stroke="#000" stroke-width="3.0" fill="none"/>
<path d="M78.10 417.82 L84.70 417.82" stroke="#000" stroke-width="3.0" fill="none"/>
<path d="M704.60 417.82 L696.10 417.82" stroke="#000" stroke-width="3.0" fill="none"/>
<path d="M78.10 343.24 L84.70 343.24" stroke="#000" stroke-width="3.0" fill="none"/>
<path d="M704.60 343.24 L696.10 343.24" stroke="#000" stroke-width="3.0" fill="none"/>
<path d="M78.10 268.66 L84.70 268.66" stroke="#000" stroke-width="3.0" fill="none"/>
<path d="M704.60 268.66 L696.10 268.66" stroke="#000" stroke-width="3.0" fill="none"/>
<path d="M78.10 194.08 L84.70 194.08" stroke="#000" stroke-width="3.0" fill="none"/>
<path d="M704.60 194.08 L696.10 194.08" stroke="#000" stroke-width="3.0" fill="none"/>
<path d="M78.10 119.50 L84.70 119.50" stroke="#000" stroke-width="3.0" fill="none"/>
<path d="M704.60 119.50 L696.10 119.50" stroke="#000" stroke-width="3.0" fill="none"/>
<path d="M78.10 44.92 L84.70 44.92" stroke="#000" stroke-width="3.0" fill="none"/>
<path d="M704.60 44.92 L696.10 44.92" stroke="#000" stroke-width="3.0" fill="none"/>
<rect x="78.10" y="7.60" width="626.50" height="484.80" fill="none" stroke="#000" stroke-width="3.3"/>
<text x="70.6" y="54.3" font-size="23" text-anchor="end">10</text>
<text x="71.7" y="128.7" font-size="23" text-anchor="end">0</text>
<text x="73.1" y="204.3" font-size="23" text-anchor="end">10</text>
<text x="38.0" y="204.20000000000002" font-size="24" stroke="#000" stroke-width="0.5">−</text>
<text x="73.1" y="279.2" font-size="23" text-anchor="end">20</text>
<text x="38.0" y="279.09999999999997" font-size="24" stroke="#000" stroke-width="0.5">−</text>
<text x="73.1" y="353.9" font-size="23" text-anchor="end">30</text>
<text x="38.0" y="353.79999999999995" font-size="24" stroke="#000" stroke-width="0.5">−</text>
<text x="73.1" y="428.2" font-size="23" text-anchor="end">40</text>
<text x="38.0" y="428.09999999999997" font-size="24" stroke="#000" stroke-width="0.5">−</text>
<text x="73.1" y="503.1" font-size="23" text-anchor="end">50</text>
<text x="38.0" y="503.0" font-size="24" stroke="#000" stroke-width="0.5">−</text>
<text x="140.60000000000002" y="530" font-size="23">10</text>
<text x="164.8" y="512" font-size="14.5">4</text>
<text x="393.90000000000003" y="530" font-size="23">10</text>
<text x="417.5" y="512" font-size="14.5">5</text>
<text x="648.9" y="530" font-size="23">10</text>
<text x="672.3" y="512" font-size="14.5">6</text>
<text x="315.4" y="558" font-size="23">Frequency, Hz</text>
<text transform="translate(22.9 301.1) rotate(-90)" x="0" y="0" font-size="23">Gain, dB</text>
<text x="164.3" y="64.9" font-size="23" letter-spacing="0.08">Sim. (127.35 kHz)</text>
<text x="517.8" y="64.95" font-size="23" letter-spacing="0.08">Sim. (258.23 kHz)</text>
<text x="169.8" y="444.9" font-size="23" letter-spacing="0.08">Sim. (30.41 kHz)</text>
<text x="519.0" y="445.8" font-size="23" letter-spacing="0.08">Sim. (63.24 kHz)</text>
</svg></body></html>
